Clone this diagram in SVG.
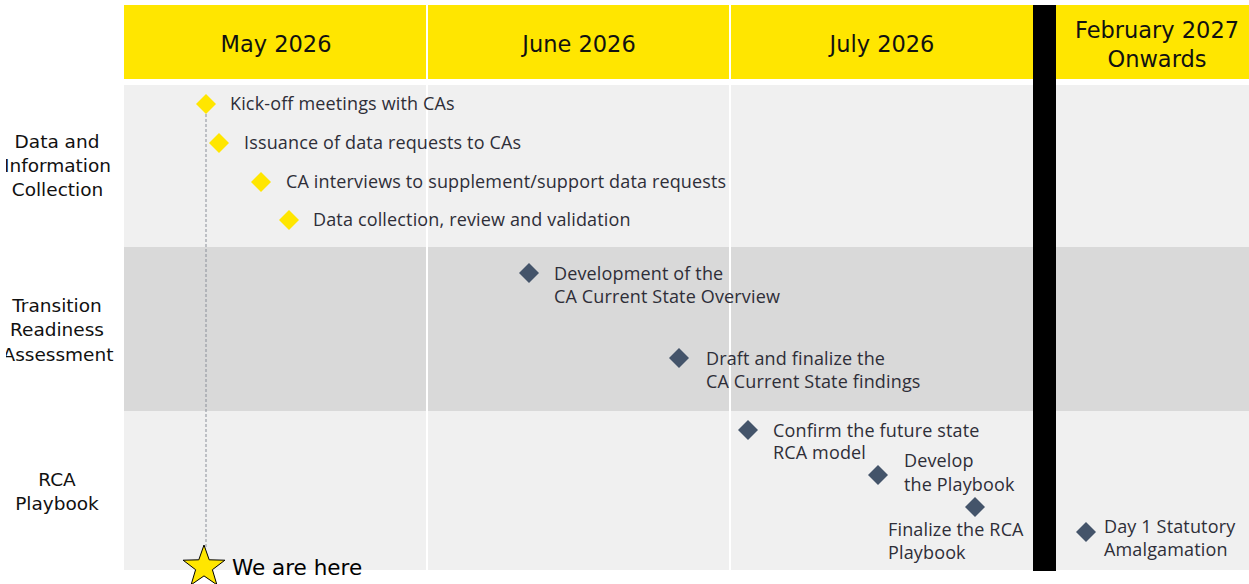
<svg xmlns="http://www.w3.org/2000/svg" width="1249" height="584" viewBox="0 0 1249 584">
  <defs>
    <style>
      .hdr { font-family: "DejaVu Sans", sans-serif; font-size: 22.5px; fill: #111; text-anchor: middle; }
      .lane { font-family: "DejaVu Sans", sans-serif; font-size: 18.5px; fill: #111; text-anchor: middle; }
      .task { font-family: "Open Sans", "Liberation Sans", sans-serif; font-size: 18px; letter-spacing: 0.15px; fill: #2e2e38; }
      .ms-y { fill: #FFE600; }
      .ms-d { fill: #44546A; }
      .sep { stroke: #ffffff; stroke-width: 2; }
    </style>
    <polygon id="dia" points="0,-10 10,0 0,10 -10,0"/>
    <clipPath id="title-clip">
      <rect x="6" y="0" width="118" height="584"/>
    </clipPath>
  </defs>

  <rect width="1249" height="584" fill="#ffffff"/>

  <!-- header band -->
  <g id="header">
    <rect x="124" y="5" width="1125" height="74" fill="#FFE600"/>
    <line class="sep" x1="427" y1="5" x2="427" y2="79"/>
    <line class="sep" x1="730" y1="5" x2="730" y2="79"/>
    <text class="hdr" x="276" y="52">May 2026</text>
    <text class="hdr" x="579" y="52">June 2026</text>
    <text class="hdr" x="882" y="52">July 2026</text>
    <text class="hdr" x="1157" y="38">February 2027</text>
    <text class="hdr" x="1157" y="67">Onwards</text>
  </g>

  <!-- swimlane backgrounds -->
  <g id="lanes">
    <rect x="124" y="85" width="1125" height="162" fill="#F0F0F0"/>
    <rect x="124" y="247" width="1125" height="164" fill="#D9D9D9"/>
    <rect x="124" y="411" width="1125" height="159" fill="#F0F0F0"/>
    <line class="sep" x1="427" y1="85" x2="427" y2="570" stroke-width="1"/>
    <line class="sep" x1="730" y1="85" x2="730" y2="570" stroke-width="1"/>
  </g>

  <!-- lane titles -->
  <g id="lane-titles" clip-path="url(#title-clip)">
    <text class="lane" x="57" y="148">Data and</text>
    <text class="lane" x="57.5" y="172">Information</text>
    <text class="lane" x="57.5" y="196">Collection</text>
    <text class="lane" x="57" y="312">Transition</text>
    <text class="lane" x="57" y="336">Readiness</text>
    <text class="lane" x="58" y="361">Assessment</text>
    <text class="lane" x="57" y="486">RCA</text>
    <text class="lane" x="57" y="510">Playbook</text>
  </g>

  <!-- cut-off marker between 2026 and 2027 -->
  <rect id="cutoff" x="1033" y="5" width="23" height="566" fill="#000000"/>

  <!-- connectors -->
  <g id="connectors">
    <line x1="206" y1="114" x2="206" y2="548" stroke="#8a8f99" stroke-width="1" stroke-dasharray="3,2"/>
  </g>

  <!-- data and information collection -->
  <g id="kickoff">
    <use href="#dia" class="ms-y" x="206" y="104"/>
    <text class="task" x="230" y="110">Kick-off meetings with CAs</text>
  </g>
  <g id="data-requests">
    <use href="#dia" class="ms-y" x="219" y="143"/>
    <text class="task" x="244" y="149">Issuance of data requests to CAs</text>
  </g>
  <g id="ca-interviews">
    <use href="#dia" class="ms-y" x="261" y="182"/>
    <text class="task" x="286" y="188">CA interviews to supplement/support data requests</text>
  </g>
  <g id="data-collection">
    <use href="#dia" class="ms-y" x="289" y="220"/>
    <text class="task" x="313" y="226">Data collection, review and validation</text>
  </g>

  <!-- transition readiness assessment -->
  <g id="current-state-overview">
    <use href="#dia" class="ms-d" x="529" y="273"/>
    <text class="task" x="554" y="280">Development of the</text>
    <text class="task" x="554" y="303">CA Current State Overview</text>
  </g>
  <g id="current-state-findings">
    <use href="#dia" class="ms-d" x="679" y="358"/>
    <text class="task" x="706" y="365">Draft and finalize the</text>
    <text class="task" x="706" y="388">CA Current State findings</text>
  </g>

  <!-- RCA playbook -->
  <g id="future-state">
    <use href="#dia" class="ms-d" x="748" y="430"/>
    <text class="task" x="773" y="437">Confirm the future state</text>
    <text class="task" x="773" y="459">RCA model</text>
  </g>
  <g id="develop-playbook">
    <use href="#dia" class="ms-d" x="878" y="475"/>
    <text class="task" x="904" y="467">Develop</text>
    <text class="task" x="904" y="491">the Playbook</text>
  </g>
  <g id="finalize-playbook">
    <use href="#dia" class="ms-d" x="975" y="507"/>
    <text class="task" x="888" y="536">Finalize the RCA</text>
    <text class="task" x="888" y="559">Playbook</text>
  </g>
  <g id="day1">
    <use href="#dia" class="ms-d" x="1086" y="532"/>
    <text class="task" x="1104" y="533">Day 1 Statutory</text>
    <text class="task" x="1104" y="556">Amalgamation</text>
  </g>

  <!-- current position -->
  <g id="we-are-here">
    <polygon points="204,545 209.2,559.8 224.9,560.2 212.4,569.7 216.9,584.8 204,575.9 191.1,584.8 195.6,569.7 183.1,560.2 198.8,559.8" fill="#FFE600" stroke="#000000" stroke-width="1"/>
    <text x="232" y="575" font-family="DejaVu Sans, sans-serif" font-size="21.5" fill="#000000">We are here</text>
  </g>
</svg>
